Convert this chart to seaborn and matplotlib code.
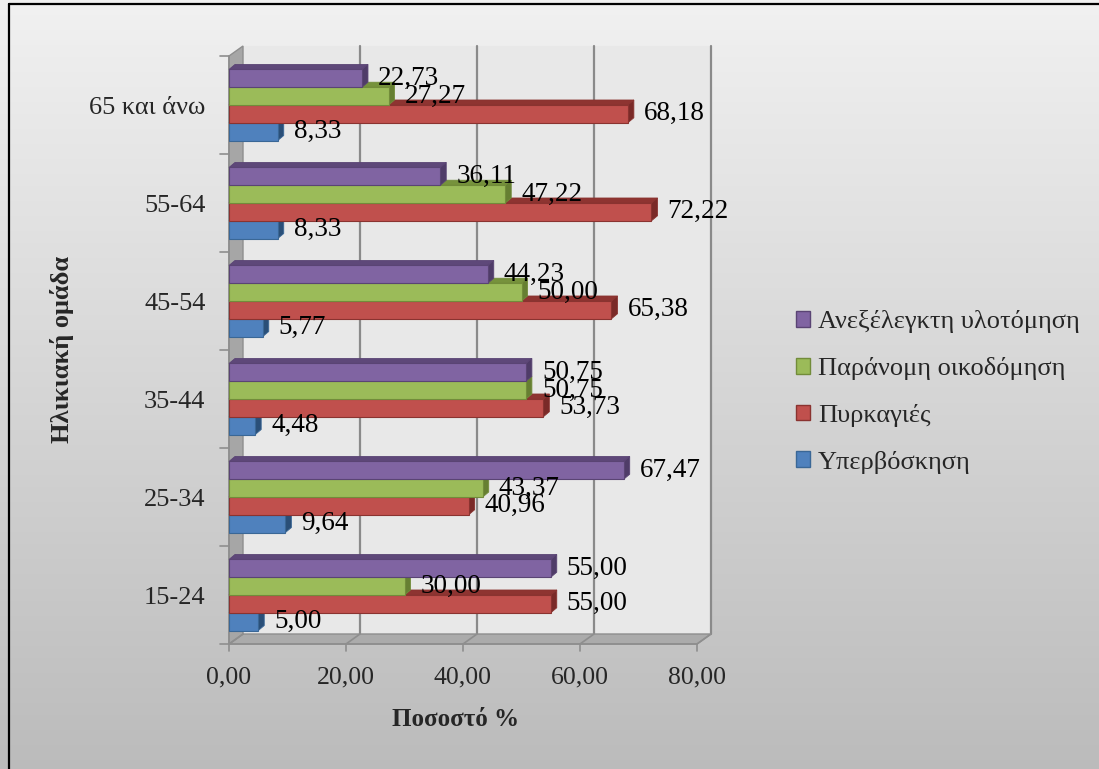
import numpy as np
import pandas as pd
import matplotlib
matplotlib.use("Agg")
import matplotlib.pyplot as plt
import seaborn as sns
from matplotlib.patches import Polygon, Rectangle, Patch
from matplotlib.lines import Line2D
from matplotlib.transforms import ScaledTranslation, IdentityTransform

# ---- data -------------------------------------------------------------
age_groups = ["65 και άνω", "55-64", "45-54", "35-44", "25-34", "15-24"]
causes = ["Ανεξέλεγκτη υλοτόμηση", "Παράνομη οικοδόμηση", "Πυρκαγιές", "Υπερβόσκηση"]

logging_vals = [22.73, 36.11, 44.23, 50.75, 67.47, 55.00]
building_vals = [27.27, 47.22, 50.00, 50.75, 43.37, 30.00]
fire_vals = [68.18, 72.22, 65.38, 53.73, 40.96, 55.00]
grazing_vals = [8.33, 8.33, 5.77, 4.48, 9.64, 5.00]

x_ticks = [0, 20, 40, 60, 80]
x_tick_labels = ["0,00", "20,00", "40,00", "60,00", "80,00"]

front_colors = ["#8064A2", "#9BBB59", "#C0504D", "#4F81BD"]
top_colors = ["#5E4879", "#76923C", "#8E3431", "#35608F"]
side_colors = ["#4F3C68", "#667F32", "#7A2A28", "#2A4F78"]
edge_colors = ["#5A4474", "#728C3A", "#8A3330", "#3A6796"]

df = pd.DataFrame({
    "group": age_groups * 4,
    "cause": sum([[c] * len(age_groups) for c in causes], []),
    "value": logging_vals + building_vals + fire_vals + grazing_vals,
})

# ---- figure & background ---------------------------------------------
W, H, DPI = 1099, 769, 100
sns.set_theme(style="white")
plt.rcParams["font.family"] = ["Liberation Serif", "DejaVu Serif"]

fig = plt.figure(figsize=(W / DPI, H / DPI), dpi=DPI)

bg = fig.add_axes([0, 0, 1, 1], zorder=-10)
t = np.linspace(0, 1, 256)
shade = 0.945 + (0.735 - 0.945) * t
img = np.repeat(shade[:, None, None], 3, axis=2)
bg.imshow(img, aspect="auto", extent=[0, 1, 0, 1])
bg.set_axis_off()

# outer frame (left and top edges)
fig.add_artist(Line2D([9 / W, 9 / W], [0, 1 - 4 / H], color="black", lw=1.6))
fig.add_artist(Line2D([9 / W, 1], [1 - 4 / H, 1 - 4 / H], color="black", lw=1.6))

# ---- plot axes ----------------------------------------------------------
PX = 5.85  # pixels per percent on the front plane
left_px, top_px, bottom_px = 229, 56, 644
ax = fig.add_axes([left_px / W, 1 - bottom_px / H, 80 * PX / W, (bottom_px - top_px) / H])
ax.set_facecolor("none")

sns.barplot(data=df, x="value", y="group", hue="cause", order=age_groups,
            hue_order=causes, palette=front_colors, orient="h", width=0.725,
            saturation=1, ax=ax, legend=False, linewidth=0.8)
bars = list(ax.patches)

ax.set_xlim(0, 80)
ax.set_ylim(len(age_groups) - 0.5, -0.5)
for sp in ax.spines.values():
    sp.set_visible(False)

DX, DY = 14, 10  # depth of the chart box in pixels
back = ScaledTranslation(DX / DPI, DY / DPI, fig.dpi_scale_trans)

# back wall
ax.add_patch(Rectangle((0, 0), 1, 1, transform=ax.transAxes + back,
                       facecolor="#E8E8E8", edgecolor="none", zorder=0.1, clip_on=False))

# grid lines on the back wall
for v in x_ticks[1:]:
    ax.plot([v, v], [0, 1], transform=ax.get_xaxis_transform() + back,
            color="#8A8A8A", lw=1.6, zorder=0.2, clip_on=False)

fig.canvas.draw()
to_px = ax.transData.transform
PIX = IdentityTransform()


def depth_poly(p0, p1, dx, dy):
    return [p0, p1, (p1[0] + dx, p1[1] + dy), (p0[0] + dx, p0[1] + dy)]


def add_poly(pts, **kw):
    ax.add_patch(Polygon(pts, closed=True, transform=PIX, clip_on=False, **kw))


def add_line(xs, ys, z=0.35):
    ax.add_line(Line2D(xs, ys, transform=PIX, color="#8E8E8E", lw=1.2,
                       zorder=z, clip_on=False))


# floor and left wall
y_lo, y_hi = len(age_groups) - 0.5, -0.5
fl0, fl1 = to_px((0, y_lo)), to_px((80, y_lo))
add_poly(depth_poly(fl0, fl1, DX, DY), facecolor="#ABABAB", edgecolor="#8E8E8E",
         lw=1.0, zorder=0.3)
lw0, lw1 = to_px((0, y_lo)), to_px((0, y_hi))
add_poly(depth_poly(lw0, lw1, DX, DY), facecolor="#A6A6A6", edgecolor="#8E8E8E",
         lw=1.0, zorder=0.3)

# floor division lines and x tick marks
for v in x_ticks:
    p = to_px((v, y_lo))
    add_line([p[0], p[0] + DX], [p[1], p[1] + DY])
    add_line([p[0], p[0]], [p[1], p[1] - 7])
add_line([fl0[0], fl1[0]], [fl0[1], fl1[1]])

# left tick marks between groups
for b in np.arange(-0.5, len(age_groups), 1.0):
    p = to_px((0, b))
    add_line([p[0] - 9, p[0]], [p[1], p[1]])
add_line([lw0[0], lw1[0]], [lw0[1], lw1[1]])

# ---- 3D faces on bars -------------------------------------------------
BDX, BDY = 6, 5
n_groups = len(age_groups)
for i, bar in enumerate(bars):
    h = i // n_groups
    x0, y0 = bar.get_x(), bar.get_y()
    bw, bh = bar.get_width(), bar.get_height()
    z = 2 + (len(causes) - h)
    bar.set_zorder(z)
    bar.set_edgecolor(edge_colors[h])
    # with the inverted y axis, y0 is the upper edge on screen
    tl = to_px((x0, y0))
    tr = to_px((x0 + bw, y0))
    br = to_px((x0 + bw, y0 + bh))
    add_poly(depth_poly(tl, tr, BDX, BDY), facecolor=top_colors[h],
             edgecolor=edge_colors[h], lw=0.6, zorder=z - 0.2)
    add_poly(depth_poly(br, tr, BDX, BDY), facecolor=side_colors[h],
             edgecolor=edge_colors[h], lw=0.6, zorder=z - 0.1)
    ax.annotate(f"{bw:.2f}".replace(".", ","), xy=(x0 + bw, y0 + bh / 2),
                xytext=(16 * 72 / DPI, 0), textcoords="offset points",
                ha="left", va="center", fontsize=19.5, color="black", zorder=20)

# ---- ticks and labels ---------------------------------------------------
ax.set_xticks(x_ticks)
ax.set_xticklabels(x_tick_labels, fontsize=18.5)
ax.tick_params(axis="x", length=0, pad=16)
ax.set_yticks(range(n_groups))
ax.set_yticklabels(age_groups, fontsize=19)
ax.tick_params(axis="y", length=0, pad=17)
ax.set_xlabel("")
ax.set_ylabel("")

fig.text(456 / W, 1 - 719 / H, "Ποσοστό %", ha="center", va="center",
         fontsize=18, fontweight="bold")
fig.text(62 / W, 1 - 349 / H, "Ηλικιακή ομάδα", ha="center", va="center",
         rotation=90, fontsize=19, fontweight="bold")

handles = [Patch(facecolor=front_colors[i], edgecolor=edge_colors[i], lw=1.0)
           for i in range(len(causes))]
fig.legend(handles, causes, loc="center left", bbox_to_anchor=(785 / W, 1 - 392 / H),
           frameon=False, fontsize=19, handlelength=0.55, handleheight=0.55,
           handletextpad=0.3, labelspacing=0.9, borderaxespad=0)

fig.savefig("out.png", dpi=DPI)
